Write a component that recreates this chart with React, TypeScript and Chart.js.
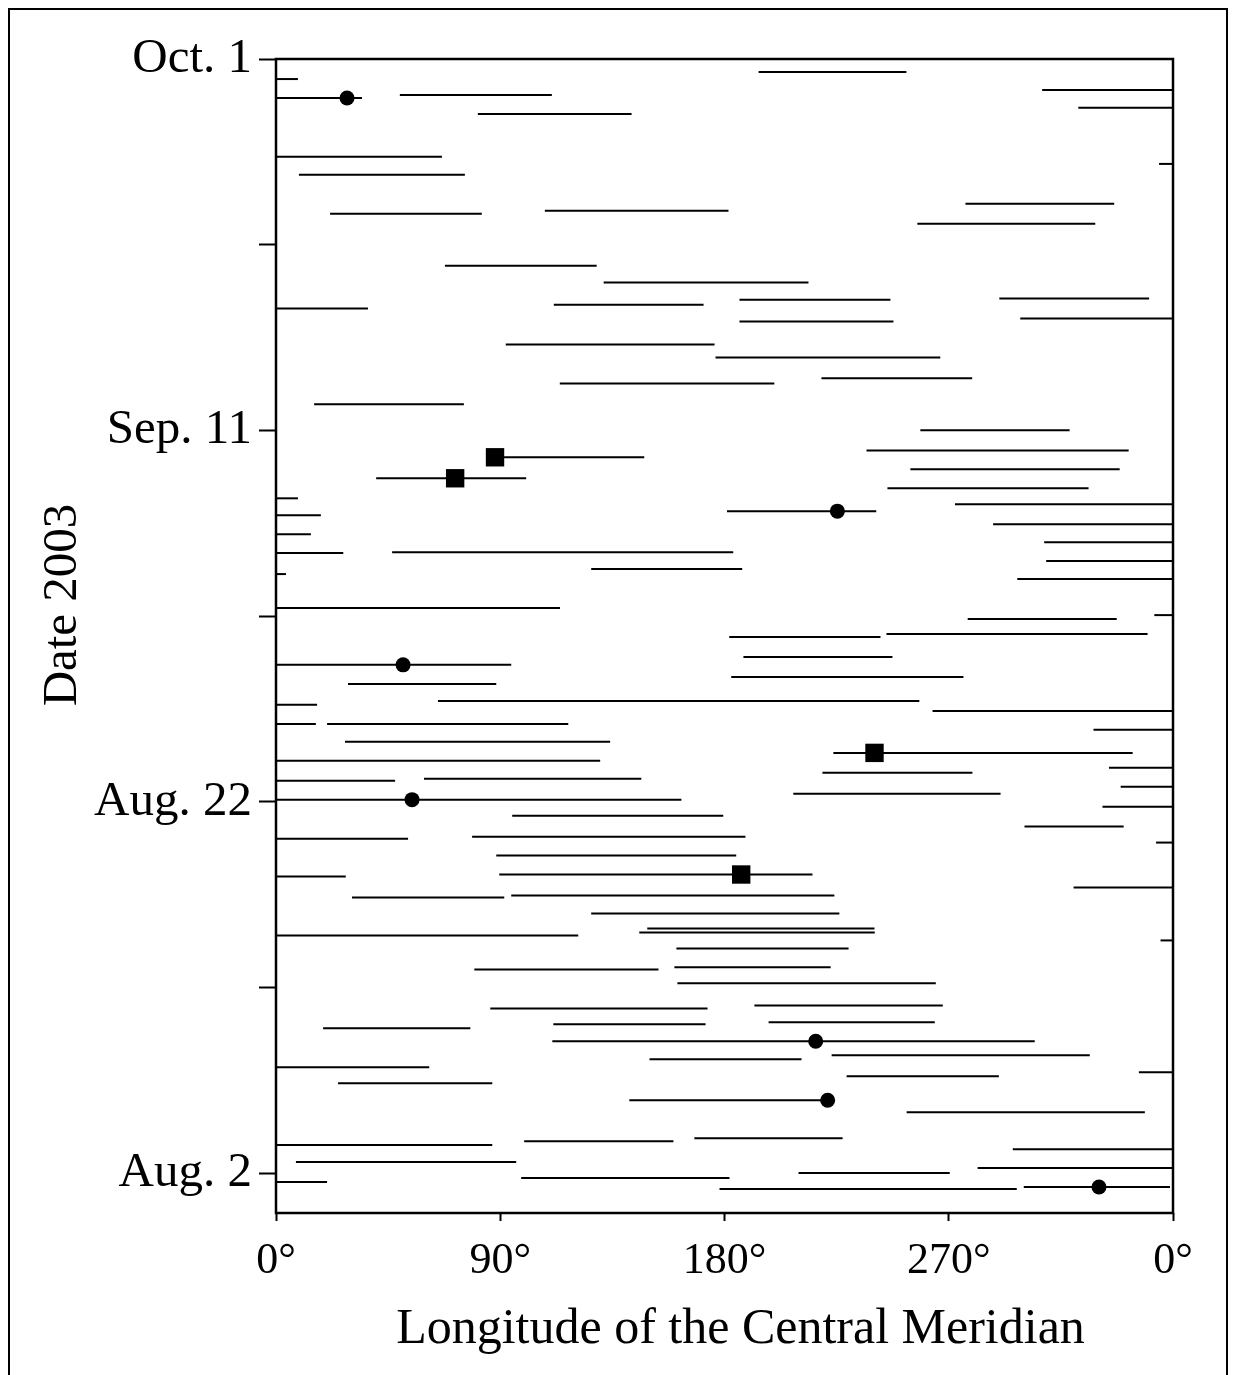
import React, { useEffect, useRef } from 'react';
import { Chart, registerables } from 'chart.js';

Chart.register(...registerables);

// Y axis: days counted from Aug. 2, 2003
const dayTicks = [0, 10, 20, 30, 40, 50, 60];
const dayTickLabels = ['Aug. 2', '', 'Aug. 22', '', 'Sep. 11', '', 'Oct. 1'];
// X axis: longitude of the central meridian (degrees)
const lonTicks = [0, 90, 180, 270, 360];
const lonTickLabels = ['0°', '90°', '180°', '270°', '0°'];

const xTitle = 'Longitude of the Central Meridian';
const yTitle = 'Date 2003';

// Observation sessions: day, start longitude, end longitude
const sessionDay = [
  58.92, 57.9, 58.06, 57.04, 59.3, 58.33, 57.37, 54.73, 54.35, 53.76,
  51.67, 51.83, 52.2, 51.13, 48.87, 47.96, 46.56, 46.77, 47.04, 47.1,
  45.86, 46.02, 44.62, 43.92, 42.8, 42.53, 41.4, 38.55, 37.42, 38.92,
  40.0, 37.9, 36.88, 36.34, 35.43, 34.41, 33.39, 33.44, 32.26, 30.43,
  35.65, 36.02, 34.95, 33.98, 32.96, 31.99, 32.53, 30.05, 29.84, 28.87,
  29.03, 27.37, 26.34, 25.22, 25.43, 24.19, 24.19, 23.23, 22.2, 21.13,
  21.24, 20.11, 19.25, 18.01, 18.12, 17.1, 15.97, 16.08, 14.84, 14.95,
  27.8, 26.72, 24.89, 23.87, 22.63, 21.83, 21.56, 20.81, 20.43, 19.73,
  18.66, 17.8, 15.38, 13.98, 13.17, 12.8, 12.96, 12.1, 12.53, 10.97,
  11.08, 10.22, 8.87, 9.03, 8.01, 8.12, 7.8, 7.1, 5.7, 6.13,
  6.34, 5.43, 5.22, 4.84, 3.92, 3.28, 1.51, 1.72, 1.88, 1.29,
  0.59, 0.27, -0.48, -0.27, 0.0, -0.86, -0.75,
];
const sessionLonStart = [
  0, 0, 49.7, 81.0, 193.7, 307.5, 322.0, 0, 354.4, 9.2,
  21.7, 107.9, 276.7, 257.4, 67.8, 131.5, 0, 111.5, 186.0, 290.3,
  186.0, 298.7, 92.2, 176.4, 218.9, 113.9, 15.3, 87.9, 40.2, 237.0,
  258.6, 254.6, 245.4, 0, 0, 0, 0, 46.6, 0, 0,
  181.0, 272.5, 287.8, 308.3, 309.1, 297.5, 126.5, 352.5, 277.6, 181.9,
  245.0, 0, 28.9, 0, 65.0, 0, 20.5, 27.7, 0, 0,
  59.4, 0, 94.8, 0, 78.7, 88.4, 0, 89.6, 30.5, 94.4,
  187.6, 182.7, 263.5, 328.1, 223.7, 334.3, 219.3, 339.0, 207.6, 331.7,
  300.4, 353.2, 320.1, 126.5, 149.0, 0, 145.8, 160.7, 355.0, 79.6,
  159.9, 161.1, 86.0, 192.0, 111.3, 197.7, 18.9, 110.9, 0, 149.9,
  223.0, 346.3, 229.0, 24.9, 141.8, 253.1, 0, 99.6, 167.9, 295.7,
  8.0, 281.6, 0, 98.4, 209.7, 178.0, 300.1,
];
const sessionLonEnd = [
  8.8, 34.5, 110.7, 142.7, 253.0, 360, 360, 66.6, 360, 75.8,
  82.6, 181.6, 336.4, 328.8, 128.7, 213.7, 36.9, 171.6, 246.6, 350.4,
  247.8, 360, 176.0, 266.6, 279.4, 200.0, 75.4, 147.8, 100.4, 342.2,
  318.5, 338.6, 326.1, 8.8, 18.0, 14.0, 27.0, 183.5, 4.0, 114.0,
  240.9, 360, 360, 360, 360, 360, 187.1, 360, 337.4, 242.6,
  349.8, 94.4, 88.4, 16.5, 258.2, 16.0, 117.3, 134.1, 130.1, 47.8,
  146.6, 162.7, 179.5, 53.0, 188.4, 184.7, 28.0, 215.3, 91.6, 224.1,
  247.4, 275.9, 360, 360, 343.8, 360, 279.5, 360, 290.8, 360,
  340.2, 360, 360, 226.1, 240.2, 121.3, 240.3, 229.8, 360, 153.5,
  222.6, 264.8, 173.2, 267.6, 172.4, 264.4, 78.0, 304.5, 61.5, 210.9,
  326.6, 360, 290.1, 86.8, 221.4, 348.7, 86.8, 159.5, 227.4, 360,
  96.4, 360, 20.5, 182.0, 270.4, 297.3, 358.8,
];

// Filled circles
const dotDay = [57.9, 35.65, 27.37, 20.11, 7.1, 3.92, -0.75];
const dotLon = [28.5, 225.3, 51.0, 54.6, 216.6, 221.4, 330.3];
// Filled squares
const squareDay = [38.55, 37.42, 22.63, 16.08];
const squareLon = [87.9, 71.9, 240.2, 186.7];

const FONT = "'Liberation Serif', 'Times New Roman', Times, serif";

const framePlugin = {
  id: 'frameAndTitles',
  afterDatasetsDraw(chart: any) {
    const { ctx, chartArea } = chart;
    const { left, top, right, bottom } = chartArea;
    ctx.save();
    ctx.strokeStyle = '#000';
    ctx.lineWidth = 2.5;
    ctx.strokeRect(left, top, right - left, bottom - top);
    ctx.restore();
  },
  afterDraw(chart: any) {
    const { ctx, chartArea } = chart;
    ctx.save();
    ctx.fillStyle = '#000';
    ctx.textAlign = 'center';
    ctx.textBaseline = 'middle';
    // y-axis title
    ctx.save();
    ctx.translate(chartArea.left - 213, chartArea.top + 546);
    ctx.rotate(-Math.PI / 2);
    ctx.font = `49px ${FONT}`;
    ctx.fillText(yTitle, 0, 0);
    ctx.restore();
    // x-axis title
    ctx.font = `50px ${FONT}`;
    ctx.fillText(xTitle, (chartArea.left + chartArea.right) / 2 + 16, chartArea.bottom + 117);
    ctx.restore();
  },
};

export default function App() {
  const canvasRef = useRef<HTMLCanvasElement | null>(null);

  useEffect(() => {
    const canvas = canvasRef.current;
    if (!canvas) return;

    const segmentSets = sessionDay.map((d, i) => ({
      type: 'scatter' as const,
      data: [
        { x: sessionLonStart[i], y: d },
        { x: sessionLonEnd[i], y: d },
      ],
      showLine: true,
      borderColor: '#000',
      borderWidth: 2,
      pointRadius: 0,
      order: 2,
    }));

    const chart = new Chart(canvas, {
      type: 'scatter',
      data: {
        datasets: [
          {
            data: dotLon.map((x, i) => ({ x, y: dotDay[i] })),
            pointStyle: 'circle',
            pointRadius: 7.5,
            backgroundColor: '#000',
            borderColor: '#000',
            borderWidth: 0,
            showLine: false,
            order: 0,
          },
          {
            data: squareLon.map((x, i) => ({ x, y: squareDay[i] })),
            pointStyle: 'rect',
            pointRadius: 13,
            backgroundColor: '#000',
            borderColor: '#000',
            borderWidth: 0,
            showLine: false,
            order: 0,
          },
          ...segmentSets,
        ] as any,
      },
      options: {
        animation: false,
        responsive: false,
        events: [],
        layout: { padding: { left: 0, top: 49, right: 53, bottom: 0 } },
        plugins: {
          legend: { display: false },
          tooltip: { enabled: false },
        },
        scales: {
          x: {
            type: 'linear',
            min: 0,
            max: 360,
            afterBuildTicks: (s: any) => {
              s.ticks = lonTicks.map((v) => ({ value: v }));
            },
            afterFit: (s: any) => {
              s.height = 157;
            },
            grid: {
              drawOnChartArea: false,
              drawTicks: true,
              tickLength: 8,
              tickWidth: 2,
              tickColor: '#000',
            },
            border: { display: false },
            ticks: {
              color: '#000',
              font: { family: FONT, size: 44 },
              padding: 14,
              maxRotation: 0,
              autoSkip: false,
              callback: (v: any) => {
                const k = lonTicks.indexOf(Number(v));
                return k >= 0 ? lonTickLabels[k] : '';
              },
            },
            title: { display: false },
          },
          y: {
            type: 'linear',
            min: -2.15,
            max: 60,
            afterBuildTicks: (s: any) => {
              s.ticks = dayTicks.map((v) => ({ value: v }));
            },
            afterFit: (s: any) => {
              s.width = 266;
            },
            grid: {
              drawOnChartArea: false,
              drawTicks: true,
              tickLength: 17,
              tickWidth: 2,
              tickColor: '#000',
            },
            border: { display: false },
            ticks: {
              color: '#000',
              font: { family: FONT, size: 49 },
              padding: 7,
              autoSkip: false,
              callback: (v: any) => {
                const k = dayTicks.indexOf(Number(v));
                return k >= 0 ? dayTickLabels[k] : '';
              },
            },
            title: { display: false },
          },
        },
      },
      plugins: [framePlugin],
    });

    return () => chart.destroy();
  }, []);

  return (
    <div
      style={{
        width: 1220,
        height: 1400,
        boxSizing: 'border-box',
        border: '2px solid #000',
        background: '#fff',
      }}
    >
      <canvas ref={canvasRef} width={1216} height={1360} style={{ display: 'block' }} />
    </div>
  );
}
